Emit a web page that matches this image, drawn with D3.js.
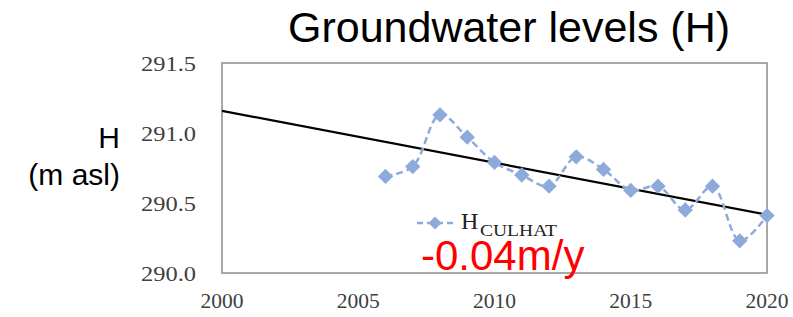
<!DOCTYPE html>
<html>
<head>
<meta charset="utf-8">
<script src="https://cdn.jsdelivr.net/npm/d3@7"></script>
<style>
  body { margin: 0; background: #fff; }
  svg { display: block; }
</style>
</head>
<body>
<div id="chart"></div>
<script>
// Niveles de agua subterránea
const years = [2006, 2007, 2008, 2009, 2010, 2011, 2012, 2013, 2014, 2015, 2016, 2017, 2018, 2019, 2020];
const levels = [290.69, 290.76, 291.13, 290.97, 290.79, 290.70, 290.62, 290.83, 290.74, 290.59, 290.62, 290.45, 290.62, 290.23, 290.41];
const xTicks = [2000, 2005, 2010, 2015, 2020];
const yTicks = [290.0, 290.5, 291.0, 291.5];
const trendLabel = "-0.04m/y";

const width = 793, height = 317;
const margin = { left: 222, right: 26, top: 63, bottom: 44 };

const svg = d3.select("#chart").append("svg")
    .attr("width", width)
    .attr("height", height);

const x = d3.scaleLinear().domain([2000, 2020]).range([margin.left, width - margin.right]);
const y = d3.scaleLinear().domain([290.0, 291.5]).range([height - margin.bottom, margin.top]);

const serif = "'Liberation Serif', 'Times New Roman', serif";
const sans = "'Liberation Sans', Arial, sans-serif";

// Marco del área del gráfico
svg.append("rect")
    .attr("x", x(2000))
    .attr("y", y(291.5))
    .attr("width", x(2020) - x(2000))
    .attr("height", y(290.0) - y(291.5))
    .attr("fill", "none")
    .attr("stroke", "#8c8c8c")
    .attr("stroke-width", 1.5);

// Etiquetas de los ejes (fuente algo más ancha que Times en el original)
svg.append("g").selectAll("text")
    .data(yTicks)
    .enter().append("text")
    .attr("x", 196)
    .attr("y", d => y(d))
    .attr("dy", "0.35em")
    .attr("text-anchor", "end")
    .attr("textLength", 55)
    .attr("lengthAdjust", "spacingAndGlyphs")
    .style("font-family", serif)
    .style("font-size", "22px")
    .style("fill", "#404040")
    .text(d => d.toFixed(1));

svg.append("g").selectAll("text")
    .data(xTicks)
    .enter().append("text")
    .attr("x", d => x(d))
    .attr("y", 308)
    .attr("text-anchor", "middle")
    .attr("textLength", 43)
    .attr("lengthAdjust", "spacingAndGlyphs")
    .style("font-family", serif)
    .style("font-size", "21px")
    .style("fill", "#404040")
    .text(d => d);

// Título
svg.append("text")
    .attr("x", 509)
    .attr("y", 42)
    .attr("text-anchor", "middle")
    .style("font-family", sans)
    .style("font-size", "43px")
    .style("fill", "#000")
    .text("Groundwater levels (H)");

// Título del eje Y
const yTitle = svg.append("text")
    .attr("text-anchor", "end")
    .style("font-family", sans)
    .style("font-size", "30px")
    .style("fill", "#000");
yTitle.append("tspan").attr("x", 120).attr("y", 148).text("H");
yTitle.append("tspan").attr("x", 120).attr("y", 185).text("(m asl)");

// Línea de tendencia (regresión lineal)
const mx = d3.mean(years), my = d3.mean(levels);
const slope = d3.sum(years, (d, i) => (d - mx) * (levels[i] - my)) / d3.sum(years, d => (d - mx) * (d - mx));
const intercept = my - slope * mx;

svg.append("line")
    .attr("x1", x(2000))
    .attr("y1", y(intercept + slope * 2000))
    .attr("x2", x(2020))
    .attr("y2", y(intercept + slope * 2020))
    .attr("stroke", "#000")
    .attr("stroke-width", 2.2);

// Serie con línea discontinua
const seriesColor = "#8eaadb";
const line = d3.line()
    .x(d => x(d[0]))
    .y(d => y(d[1]))
    .curve(d3.curveCatmullRom.alpha(0.5));

const pts = years.map((yr, i) => [yr, levels[i]]);

svg.append("path")
    .datum(pts)
    .attr("d", line)
    .attr("fill", "none")
    .attr("stroke", seriesColor)
    .attr("stroke-width", 2.5)
    .attr("stroke-dasharray", "7,4");

const diamond = d3.symbol().type(d3.symbolDiamond2).size(150);

svg.append("g").selectAll("path")
    .data(pts)
    .enter().append("path")
    .attr("transform", d => `translate(${x(d[0])},${y(d[1])})`)
    .attr("d", diamond)
    .attr("fill", seriesColor);

// Leyenda
const lg = svg.append("g");
lg.append("line")
    .attr("x1", 417).attr("x2", 454)
    .attr("y1", 223).attr("y2", 223)
    .attr("stroke", seriesColor)
    .attr("stroke-width", 2.5)
    .attr("stroke-dasharray", "6,4");
lg.append("path")
    .attr("transform", "translate(435,223)")
    .attr("d", d3.symbol().type(d3.symbolDiamond2).size(110))
    .attr("fill", seriesColor);
lg.append("text")
    .attr("x", 461)
    .attr("y", 229)
    .style("font-family", serif)
    .style("font-size", "24px")
    .style("fill", "#222")
    .text("H");
lg.append("text")
    .attr("x", 480)
    .attr("y", 236)
    .attr("textLength", 77)
    .attr("lengthAdjust", "spacingAndGlyphs")
    .style("font-family", serif)
    .style("font-size", "16px")
    .style("fill", "#222")
    .text("CULHAT");

// Pendiente
svg.append("text")
    .attr("x", 421)
    .attr("y", 270)
    .style("font-family", sans)
    .style("font-size", "42px")
    .style("fill", "#ff0000")
    .text(trendLabel);
</script>
</body>
</html>
